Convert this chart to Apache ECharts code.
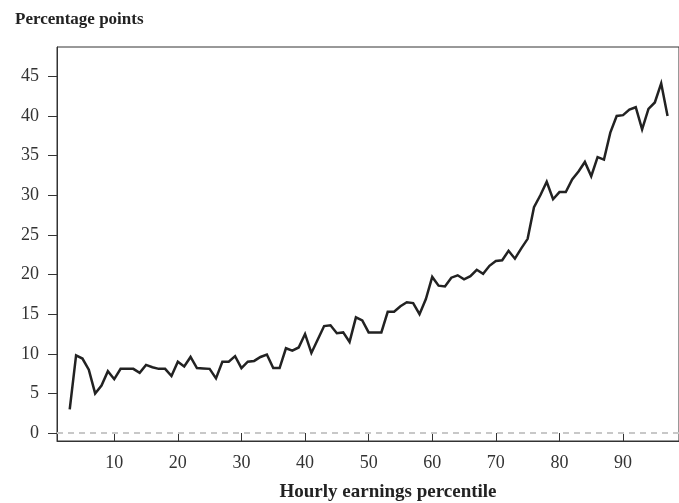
<!DOCTYPE html>
<html>
<head>
<meta charset="utf-8">
<script src="https://cdn.jsdelivr.net/npm/echarts@6/dist/echarts.min.js"></script>
<style>
  html, body { margin: 0; padding: 0; background: #fff; }
  #chart { width: 679px; height: 503px; }
</style>
</head>
<body>
<div id="chart"></div>
<script>
// Hourly earnings percentiles (x) and the gap in percentage points (y)
const percentiles = [
  3, 4, 5, 6, 7, 8, 9, 10, 11, 12, 13, 14, 15, 16, 17, 18, 19, 20, 21, 22,
  23, 24, 25, 26, 27, 28, 29, 30, 31, 32, 33, 34, 35, 36, 37, 38, 39, 40, 41, 42,
  43, 44, 45, 46, 47, 48, 49, 50, 51, 52, 53, 54, 55, 56, 57, 58, 59, 60, 61, 62,
  63, 64, 65, 66, 67, 68, 69, 70, 71, 72, 73, 74, 75, 76, 77, 78, 79, 80, 81, 82,
  83, 84, 85, 86, 87, 88, 89, 90, 91, 92, 93, 94, 95, 96, 97
];
const gapValues = [
  3.0, 9.8, 9.4, 8.0, 5.0, 6.0, 7.8, 6.8, 8.1, 8.1, 8.1, 7.6, 8.6, 8.3, 8.1, 8.1, 7.2, 9.0, 8.4, 9.6,
  8.2, 8.15, 8.1, 6.9, 9.0, 9.0, 9.7, 8.2, 9.0, 9.1, 9.6, 9.9, 8.2, 8.2, 10.7, 10.4, 10.8, 12.5, 10.1, 11.8,
  13.5, 13.6, 12.6, 12.7, 11.5, 14.6, 14.2, 12.7, 12.7, 12.7, 15.3, 15.3, 16.0, 16.5, 16.4, 15.0, 16.9, 19.7, 18.6, 18.5,
  19.6, 19.9, 19.4, 19.8, 20.6, 20.1, 21.1, 21.7, 21.8, 23.0, 22.0, 23.3, 24.5, 28.5, 30.0, 31.7, 29.5, 30.4, 30.4, 32.0,
  33.0, 34.2, 32.4, 34.8, 34.5, 37.9, 40.0, 40.1, 40.8, 41.1, 38.3, 40.9, 41.7, 44.1, 40.0
];
const xTicks = [10, 20, 30, 40, 50, 60, 70, 80, 90];
const yTicks = [0, 5, 10, 15, 20, 25, 30, 35, 40, 45];

const chart = echarts.init(document.getElementById('chart'), null, { renderer: 'canvas' });
const serif = '"Liberation Serif", "DejaVu Serif", serif';
const axisColor = '#333333';

chart.setOption({
  animation: false,
  backgroundColor: '#ffffff',
  grid: {
    left: 57, top: 47, width: 624, height: 394,
    show: true, borderColor: axisColor, borderWidth: 1, containLabel: false
  },
  xAxis: {
    type: 'value', min: 1, max: 98.8,
    axisLine: { show: true, onZero: false, lineStyle: { color: axisColor, width: 1 } },
    axisTick: { show: true, inside: true, length: 8, customValues: xTicks, lineStyle: { color: axisColor, width: 1 } },
    axisLabel: { customValues: xTicks, color: '#333', fontFamily: serif, fontSize: 18, margin: 13 },
    splitLine: { show: false }
  },
  yAxis: {
    type: 'value', min: -1, max: 48.7,
    axisLine: { show: true, onZero: false, lineStyle: { color: axisColor, width: 1 } },
    axisTick: { show: true, inside: false, length: 9, customValues: yTicks, lineStyle: { color: axisColor, width: 1 } },
    axisLabel: { customValues: yTicks, color: '#333', fontFamily: serif, fontSize: 18, margin: 18 },
    splitLine: { show: false }
  },
  series: [{
    type: 'line',
    data: percentiles.map((p, i) => [p, gapValues[i]]),
    showSymbol: false,
    lineStyle: { color: '#222222', width: 2.5, join: 'miter' },
    markLine: {
      silent: true, symbol: 'none', label: { show: false },
      lineStyle: { color: '#c8c8c8', width: 2, type: [6, 5] },
      data: [{ yAxis: 0 }]
    }
  }],
  graphic: [
    {
      type: 'text', left: 15, top: 11,
      style: { text: 'Percentage points', font: 'bold 17px ' + serif, fill: '#222' }
    },
    {
      type: 'text', x: 388, y: 492,
      style: { text: 'Hourly earnings percentile', font: 'bold 19px ' + serif, fill: '#222', align: 'center', verticalAlign: 'middle' }
    }
  ]
});
</script>
</body>
</html>
